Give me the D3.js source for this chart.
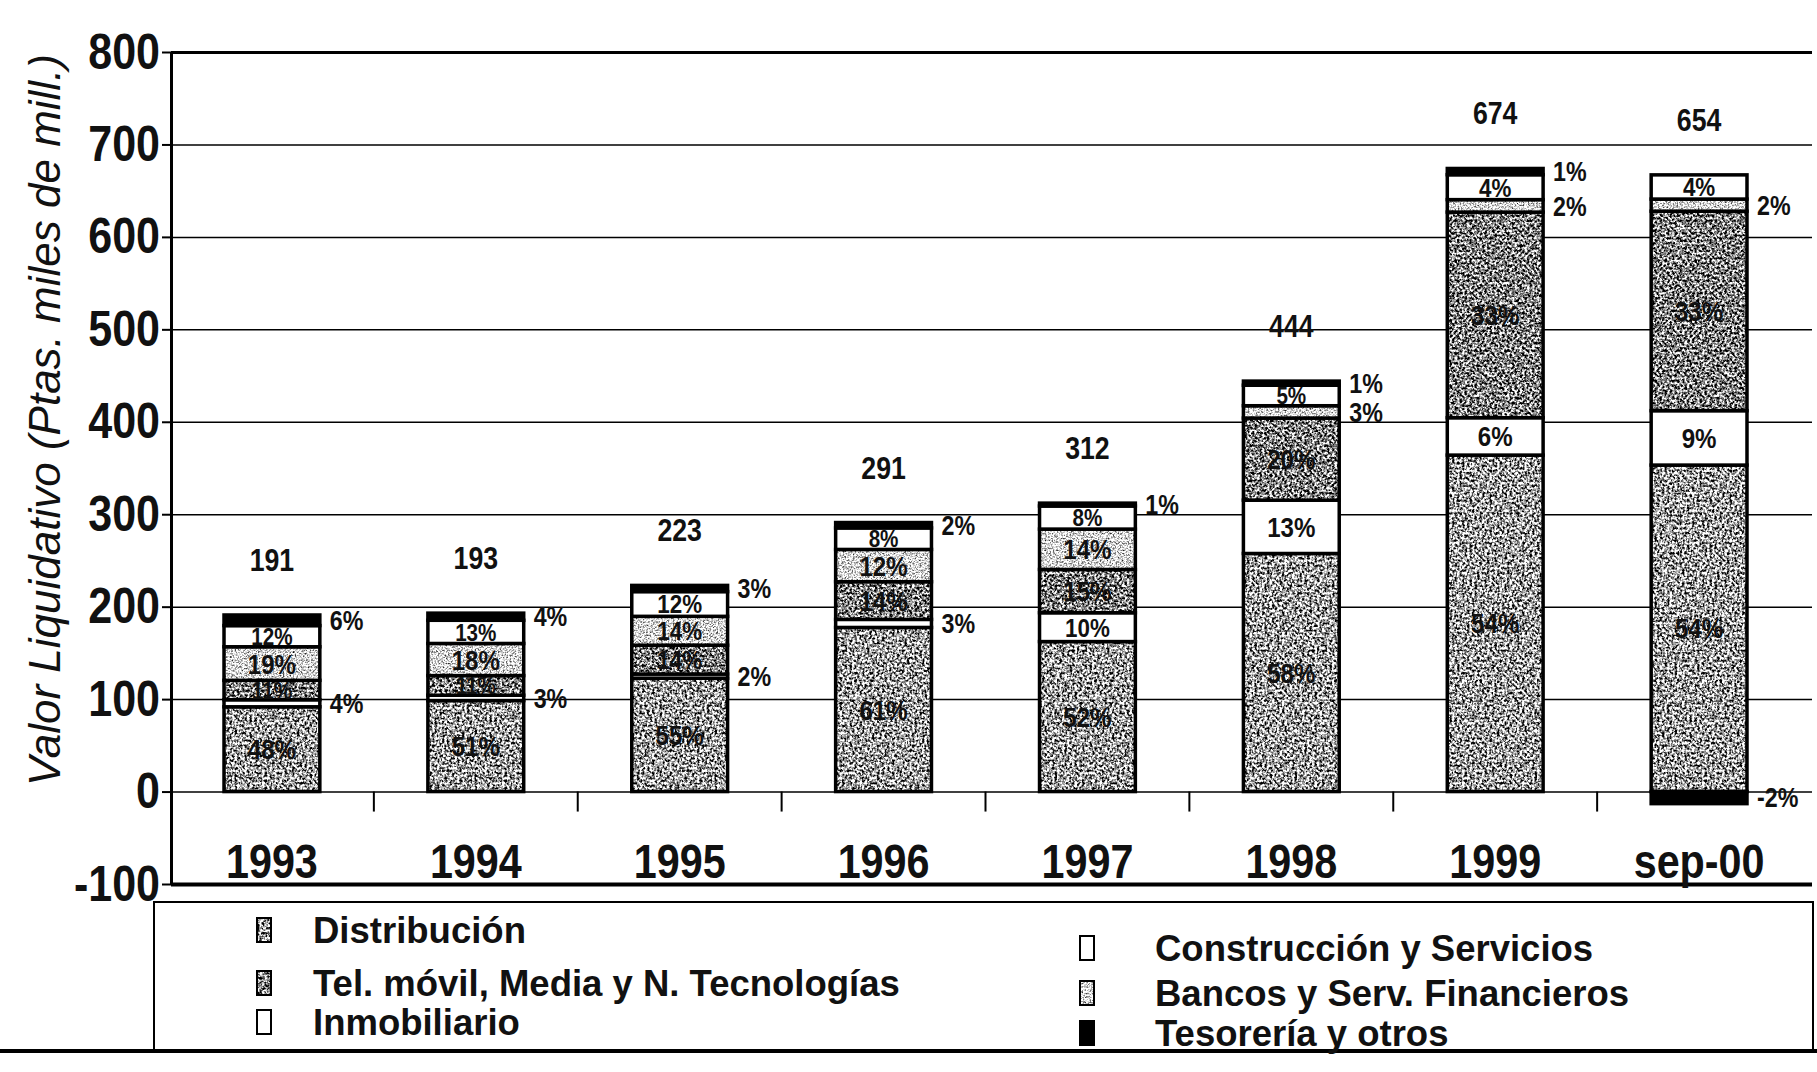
<!DOCTYPE html>
<html>
<head>
<meta charset="utf-8">
<script src="https://cdn.jsdelivr.net/npm/d3@7"></script>
<style>
  body { margin: 0; background: #fff; }
  text { font-family: 'Liberation Sans', Arial, sans-serif; font-weight: bold; fill: #111; }
</style>
</head>
<body>
<div id="chart"></div>
<script>
// categories and totals (Ptas. miles de mill.)
const categories = ['1993', '1994', '1995', '1996', '1997', '1998', '1999', 'sep-00'];
const totals = [191, 193, 223, 291, 312, 444, 674, 654];

// share of each sector, % (stack order bottom -> top)
const distribucion = [48, 51, 55, 61, 52, 58, 54, 54];
const construccion = [4, 3, 2, 3, 10, 13, 6, 9];
const telMovil = [11, 11, 14, 14, 15, 20, 33, 33];
const bancos = [19, 18, 14, 12, 14, 3, 2, 2];
const inmobiliario = [12, 13, 12, 8, 8, 5, 4, 4];
const tesoreria = [6, 4, 3, 2, 1, 1, 1, -2];

const yTicks = [-100, 0, 100, 200, 300, 400, 500, 600, 700, 800];

const keys = ['dist', 'constr', 'tel', 'bancos', 'inmob', 'tes'];
const pct = { dist: distribucion, constr: construccion, tel: telMovil, bancos: bancos, inmob: inmobiliario, tes: tesoreria };
const names = {
  dist: 'Distribución',
  tel: 'Tel. móvil, Media y N. Tecnologías',
  inmob: 'Inmobiliario',
  constr: 'Construcción y Servicios',
  bancos: 'Bancos y Serv. Financieros',
  tes: 'Tesorería y otros'
};

const W = 1817, H = 1072;
const left = 171, right = 1812;

const svg = d3.select('#chart').append('svg')
  .attr('width', W)
  .attr('height', H);

// textures
const defs = svg.append('defs');
function noisePattern(id, freq, a, b, seed) {
  const f = defs.append('filter').attr('id', id + '-f')
    .attr('x', 0).attr('y', 0).attr('width', '100%').attr('height', '100%')
    .attr('color-interpolation-filters', 'sRGB');
  f.append('feTurbulence').attr('type', 'fractalNoise')
    .attr('baseFrequency', freq).attr('numOctaves', 3).attr('seed', seed);
  f.append('feColorMatrix').attr('type', 'matrix')
    .attr('values', `${a} 0 0 0 ${b}  ${a} 0 0 0 ${b}  ${a} 0 0 0 ${b}  0 0 0 0 1`);
  defs.append('pattern').attr('id', id)
    .attr('patternUnits', 'userSpaceOnUse')
    .attr('width', 240).attr('height', 900)
    .append('rect').attr('width', 240).attr('height', 900)
    .attr('filter', `url(#${id}-f)`);
}
noisePattern('pDist', 0.4, 3, -0.88, 3);
noisePattern('pTel', 0.4, 3, -1.0, 7);
noisePattern('pBanc', 0.6, 2, -0.15, 11);

const fills = {
  dist: 'url(#pDist)', constr: '#fff', tel: 'url(#pTel)',
  bancos: 'url(#pBanc)', inmob: '#fff', tes: '#000'
};

const x = d3.scaleBand().domain(categories).range([left, 1800])
  .paddingInner(0.53).paddingOuter(0.26);
const y = d3.scaleLinear().domain([-100, 800]).range([884, 52]);

// grid lines
svg.append('g')
  .attr('transform', `translate(${left},0)`)
  .call(d3.axisLeft(y).tickValues(yTicks).tickSize(-(right - left)).tickFormat(''))
  .call(g => g.select('.domain').remove())
  .call(g => g.selectAll('line').attr('stroke', '#000')
    .attr('stroke-width', d => (d === 800 ? 3 : d === -100 ? 4 : 1.5)));

// y axis with labels
svg.append('g')
  .attr('transform', `translate(${left},0)`)
  .call(d3.axisLeft(y).tickValues(yTicks).tickSize(9).tickSizeOuter(0).tickPadding(2)
    .tickFormat(d => String(d)))
  .call(g => g.select('.domain').attr('stroke-width', 3))
  .call(g => g.selectAll('.tick line').attr('stroke-width', 2))
  .call(g => g.selectAll('text').attr('class', 'cond').attr('font-size', 50).attr('fill', '#111')
    .style('font-family', "'Liberation Sans', Arial, sans-serif").style('font-weight', 'bold'));

// ticks between categories on zero line
svg.append('g').selectAll('line')
  .data(categories.slice(1))
  .join('line')
  .attr('x1', d => x(d) - (x.step() - x.bandwidth()) / 2)
  .attr('x2', d => x(d) - (x.step() - x.bandwidth()) / 2)
  .attr('y1', y(0)).attr('y2', y(0) + 20)
  .attr('stroke', '#000').attr('stroke-width', 2);

// y title
svg.append('text')
  .attr('transform', `translate(60,420) rotate(-90)`)
  .attr('text-anchor', 'middle')
  .style('font-weight', 'normal')
  .style('font-style', 'italic')
  .attr('font-size', 44)
  .attr('fill', '#222')
  .text('Valor Liquidativo (Ptas. miles de mill.)');

// data table for stacking
const table = categories.map((c, i) => {
  const row = { cat: c, total: totals[i] };
  keys.forEach(k => { row[k] = pct[k][i] * totals[i] / 100; });
  return row;
});
const stacked = d3.stack().keys(keys).offset(d3.stackOffsetDiverging)(table);

// bars
const layers = svg.append('g').selectAll('g')
  .data(stacked)
  .join('g')
  .attr('fill', d => fills[d.key]);

layers.selectAll('rect')
  .data(d => d)
  .join('rect')
  .attr('x', d => x(d.data.cat))
  .attr('width', x.bandwidth())
  .attr('y', d => y(Math.max(d[0], d[1])))
  .attr('height', d => Math.abs(y(d[0]) - y(d[1])))
  .attr('stroke', '#000')
  .attr('stroke-width', 3.5);

// percentage labels
const labels = [];
stacked.forEach(s => {
  s.forEach((d, i) => {
    const v = Math.abs(d[1] - d[0]);
    labels.push({
      cat: d.data.cat,
      mid: (d[0] + d[1]) / 2,
      size: v,
      text: pct[s.key][i] + '%',
      inside: v >= 18
    });
  });
});

svg.append('g').selectAll('text')
  .data(labels)
  .join('text')
  .attr('class', 'cond')
  .attr('x', d => d.inside ? x(d.cat) + x.bandwidth() / 2 : x(d.cat) + x.bandwidth() + 10)
  .attr('y', d => y(d.mid))
  .attr('dy', '0.36em')
  .attr('text-anchor', d => d.inside ? 'middle' : 'start')
  .attr('font-size', d => d.inside ? (d.size < 26 ? 24 : d.size < 34 ? 26 : 28) : 27)
  .text(d => d.text);

// totals above bars
const tops = categories.map((c, i) => d3.max(stacked, s => s[i][1]));
svg.append('g').selectAll('text')
  .data(categories)
  .join('text')
  .attr('class', 'cond')
  .attr('x', d => x(d) + x.bandwidth() / 2)
  .attr('y', (d, i) => y(tops[i]) - 44)
  .attr('text-anchor', 'middle')
  .attr('font-size', 31)
  .text((d, i) => totals[i]);

// category labels
svg.append('g').selectAll('text')
  .data(categories)
  .join('text')
  .attr('class', 'cond')
  .attr('x', d => x(d) + x.bandwidth() / 2)
  .attr('y', 878)
  .attr('text-anchor', 'middle')
  .attr('font-size', 48)
  .text(d => d);

// legend
svg.append('rect')
  .attr('x', 154).attr('y', 902).attr('width', 1659).attr('height', 148)
  .attr('fill', 'none').attr('stroke', '#000').attr('stroke-width', 2);
svg.append('line')
  .attr('x1', 0).attr('x2', W).attr('y1', 1051).attr('y2', 1051)
  .attr('stroke', '#000').attr('stroke-width', 4);

const legendItems = [
  { key: 'dist', sx: 257, tx: 313, cy: 930 },
  { key: 'tel', sx: 257, tx: 313, cy: 983 },
  { key: 'inmob', sx: 257, tx: 313, cy: 1022 },
  { key: 'constr', sx: 1080, tx: 1155, cy: 948 },
  { key: 'bancos', sx: 1080, tx: 1155, cy: 993 },
  { key: 'tes', sx: 1080, tx: 1155, cy: 1033 }
];
const lg = svg.append('g').selectAll('g')
  .data(legendItems)
  .join('g');
lg.append('rect')
  .attr('x', d => d.sx).attr('y', d => d.cy - 12)
  .attr('width', 14).attr('height', 24)
  .attr('fill', d => fills[d.key])
  .attr('stroke', '#000').attr('stroke-width', 2);
lg.append('text')
  .attr('x', d => d.tx).attr('y', d => d.cy)
  .attr('dy', '0.36em')
  .attr('font-size', 36.5)
  .text(d => names[d.key]);

// narrow the bold type, like the condensed face of the original
svg.selectAll('text.cond').each(function () {
  const w = this.getComputedTextLength();
  d3.select(this).attr('textLength', w * 0.86).attr('lengthAdjust', 'spacingAndGlyphs');
});
</script>
</body>
</html>
